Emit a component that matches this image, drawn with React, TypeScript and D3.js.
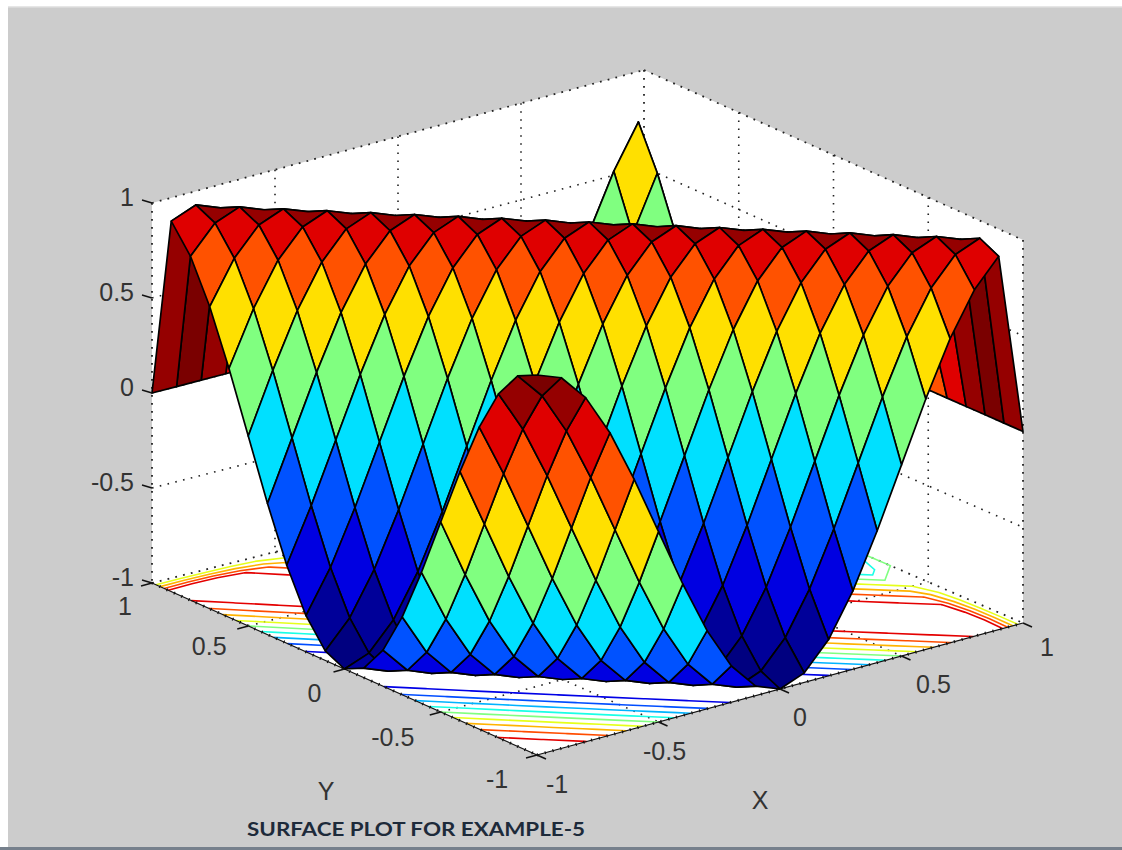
import * as d3 from "d3";

// surface samples, x and y both run -1:0.1:1
const gridValues = [-1, -0.9, -0.8, -0.7, -0.6, -0.5, -0.4, -0.3, -0.2, -0.1, 0, 0.1, 0.2, 0.3, 0.4, 0.5, 0.6, 0.7, 0.8, 0.9, 1];
// height read along each diagonal band (column index + row index)
const bandHeights = [
  1, 0.95, 0.81, 0.59, 0.31, 0, -0.31, -0.59, -0.81, -0.95,
  -1, -0.95, -0.81, -0.59, -0.31, 0, 0.31, 0.59, 0.81, 0.95,
  1, 0.95, 0.81, 0.59, 0.31, 0, -0.31, -0.59, -0.81, -0.95,
  -1, -0.95, -0.81, -0.59, -0.31, 0, 0.31, 0.59, 0.81, 0.95,
  1,
];
const contourLevels = [-0.8, -0.6, -0.4, -0.2, 0, 0.2, 0.4, 0.6, 0.8];
const xTicks = [-1, -0.5, 0, 0.5, 1];
const yTicks = [-1, -0.5, 0, 0.5, 1];
const zTicks = [-1, -0.5, 0, 0.5, 1];
const xTickLabels = ["-1", "-0.5", "0", "0.5", "1"];
const yTickLabels = ["-1", "-0.5", "0", "0.5", "1"];
const zTickLabels = ["-1", "-0.5", "0", "0.5", "1"];
const title = "SURFACE PLOT FOR EXAMPLE-5";

const width = 1122;
const height = 850;

// screen corners of the floor and the height of the box above each of them
const cornerA = [152, 583, 380]; // x=-1, y=1
const cornerB = [537, 755, 380]; // x=-1, y=-1
const cornerC = [1023, 623, 383]; // x=1, y=-1
const cornerD = [644, 459, 389]; // x=1, y=1

const uScale = d3.scaleLinear().domain([-1, 1]).range([0, 1]);
const vScale = d3.scaleLinear().domain([-1, 1]).range([0, 1]);
const zScale = d3.scaleLinear().domain([-1, 1]).range([0, 1]);

const jet = d3
  .scaleLinear<string>()
  .domain([-1, -0.75, -0.25, 0.25, 0.75, 1])
  .range(["#000080", "#0000ff", "#00ffff", "#ffff00", "#ff0000", "#7a0000"]);

function project(x: number, y: number, z: number): [number, number] {
  const u = uScale(x);
  const v = vScale(y);
  const w = [(1 - u) * v, (1 - u) * (1 - v), u * (1 - v), u * v];
  const mix = (k: number) =>
    w[0] * cornerA[k] + w[1] * cornerB[k] + w[2] * cornerC[k] + w[3] * cornerD[k];
  return [mix(0), mix(1) - zScale(z) * mix(2)];
}

const last = gridValues.length - 1;
// rows y=1 and columns x=1 sit at zero in the plot
const heightAt = (i: number, j: number) => (i === last || j === last ? 0 : bandHeights[i + j]);

const line = d3.line<[number, number]>();

type Cell = { key: string; d: string; fill: string };
const cells: Cell[] = [];
// far corner first, so nearer cells paint over
for (let i = last - 1; i >= 0; i--) {
  for (let j = last - 1; j >= 0; j--) {
    const pts = [
      project(gridValues[i], gridValues[j], heightAt(i, j)),
      project(gridValues[i + 1], gridValues[j], heightAt(i + 1, j)),
      project(gridValues[i + 1], gridValues[j + 1], heightAt(i + 1, j + 1)),
      project(gridValues[i], gridValues[j + 1], heightAt(i, j + 1)),
    ];
    cells.push({ key: `${i}-${j}`, d: line(pts) + "Z", fill: jet(heightAt(i, j)) });
  }
}

// floor contours: d3 closes them along the grid border, those pieces get dropped
const flat: number[] = [];
for (let j = 0; j <= last; j++) for (let i = 0; i <= last; i++) flat.push(heightAt(i, j));
const n = gridValues.length;
const contourData = d3.contours().size([n, n]).thresholds(contourLevels)(flat);
const gridScale = d3.scaleLinear().domain([0.5, n - 0.5]).range([-1, 1]);

const onBorder = (p: number[]) => p[0] <= 0 || p[0] >= n || p[1] <= 0 || p[1] >= n;

function contourPaths(rings: number[][][][]) {
  const paths: string[] = [];
  rings.forEach((polygon) =>
    polygon.forEach((ring) => {
      const open = ring.slice(0, -1);
      const start = open.findIndex(onBorder);
      const ordered = start < 0 ? ring : [...open.slice(start), ...open.slice(0, start), open[start]];
      let run: [number, number][] = [];
      const flush = () => {
        if (run.length > 1) paths.push(line(run) as string);
        run = [];
      };
      ordered.forEach((p) => {
        if (onBorder(p)) flush();
        else run.push(project(gridScale(p[0]), gridScale(p[1]), -1));
      });
      flush();
    })
  );
  return paths.join("");
}

const segment = (a: [number, number], b: [number, number]) => line([a, b]) as string;

// dotted box edges and grid lines
const boxEdges = [
  segment(project(-1, 1, 1), project(1, 1, 1)),
  segment(project(1, 1, 1), project(1, -1, 1)),
  segment(project(-1, 1, 1), project(-1, 1, -1)),
  segment(project(1, -1, 1), project(1, -1, -1)),
  segment(project(1, 1, 1), project(1, 1, -1)),
  segment(project(-1, 1, -1), project(1, 1, -1)),
  segment(project(1, 1, -1), project(1, -1, -1)),
];
const gridLines: string[] = [];
xTicks.slice(1, -1).forEach((x) => {
  gridLines.push(segment(project(x, 1, 1), project(x, 1, -1)));
  gridLines.push(segment(project(x, 1, -1), project(x, -1, -1)));
});
yTicks.slice(1, -1).forEach((y) => {
  gridLines.push(segment(project(1, y, 1), project(1, y, -1)));
  gridLines.push(segment(project(-1, y, -1), project(1, y, -1)));
});
zTicks.slice(1, -1).forEach((z) => {
  gridLines.push(segment(project(-1, 1, z), project(1, 1, z)));
  gridLines.push(segment(project(1, 1, z), project(1, -1, z)));
});

const wallPath =
  line([
    project(-1, 1, 1),
    project(1, 1, 1),
    project(1, -1, 1),
    project(1, -1, -1),
    project(-1, -1, -1),
    project(-1, 1, -1),
  ]) + "Z";

const floorAxes = segment(project(-1, 1, -1), project(-1, -1, -1)) + segment(project(-1, -1, -1), project(1, -1, -1));

// label nudges, in the order of the tick lists
const xLabelOffset = [[20, 38], [6, 38], [20, 37], [32, 37], [24, 33]];
const yLabelOffset = [[-40, 33], [-48, 34], [-30, 33], [-39, 29], [-27, 32]];

const font = "'Liberation Sans', Arial, sans-serif";
const labelColor = "#333";

export default function App() {
  return (
    <svg
      width={width}
      height={height}
      viewBox={`0 0 ${width} ${height}`}
      style={{ position: "absolute", left: 0, top: 0, background: "#fff" }}
    >
      <rect x={8} y={6} width={width - 8} height={height - 6} fill="#cccccc" />
      <rect x={8} y={6} width={width - 8} height={1.5} fill="#e6e6e6" />
      <rect x={0} y={847} width={width} height={3} fill="#76808c" />

      <path d={wallPath} fill="#fff" />
      <path d={gridLines.join("")} fill="none" stroke="#222" strokeWidth={1.6} strokeDasharray="1.6 6.4" />
      <path d={boxEdges.join("")} fill="none" stroke="#222" strokeWidth={1.8} strokeDasharray="1.8 6.2" />

      {contourData.map((c) => (
        <path
          key={c.value}
          d={contourPaths(c.coordinates as number[][][][])}
          fill="none"
          stroke={jet(c.value)}
          strokeWidth={1.6}
        />
      ))}

      <path d={floorAxes} fill="none" stroke="#111" strokeWidth={1.2} />
      <path d={floorAxes} fill="none" stroke="#111" strokeWidth={3} strokeDasharray="1.2 6.8" />

      {cells.map((c) => (
        <path key={c.key} d={c.d} fill={c.fill} stroke="#000" strokeWidth={1.7} strokeLinejoin="round" />
      ))}

      {/* ticks and labels */}
      {xTicks.map((x, i) => {
        const [px, py] = project(x, -1, -1);
        return (
          <g key={`x${i}`}>
            <path d={`M${px},${py}l9,4`} stroke="#111" strokeWidth={1.4} />
            <text x={px + xLabelOffset[i][0]} y={py + xLabelOffset[i][1]} fontFamily={font} fontSize={25} fill={labelColor} textAnchor="middle">
              {xTickLabels[i]}
            </text>
          </g>
        );
      })}
      {yTicks.map((y, i) => {
        const [px, py] = project(-1, y, -1);
        return (
          <g key={`y${i}`}>
            <path d={`M${px},${py}l-11,3`} stroke="#111" strokeWidth={1.4} />
            <text x={px + yLabelOffset[i][0]} y={py + yLabelOffset[i][1]} fontFamily={font} fontSize={25} fill={labelColor} textAnchor="middle">
              {yTickLabels[i]}
            </text>
          </g>
        );
      })}
      {zTicks.map((z, i) => {
        const [px, py] = project(-1, 1, z);
        return (
          <g key={`z${i}`}>
            <path d={`M${px},${py}l-10,-3`} stroke="#111" strokeWidth={1.4} />
            <text x={px - 18} y={py + 3} fontFamily={font} fontSize={25} fill={labelColor} textAnchor="end">
              {zTickLabels[i]}
            </text>
          </g>
        );
      })}
      <text x={326} y={800} fontFamily={font} fontSize={25} fill={labelColor} textAnchor="middle">
        Y
      </text>
      <text x={760} y={809} fontFamily={font} fontSize={25} fill={labelColor} textAnchor="middle">
        X
      </text>
      <text
        x={247}
        y={836}
        fontFamily="Lato, 'Open Sans', sans-serif"
        fontWeight={700}
        fontSize={19}
        fill="#1d2a3a"
        textLength={338}
        lengthAdjust="spacingAndGlyphs"
      >
        {title}
      </text>
    </svg>
  );
}
